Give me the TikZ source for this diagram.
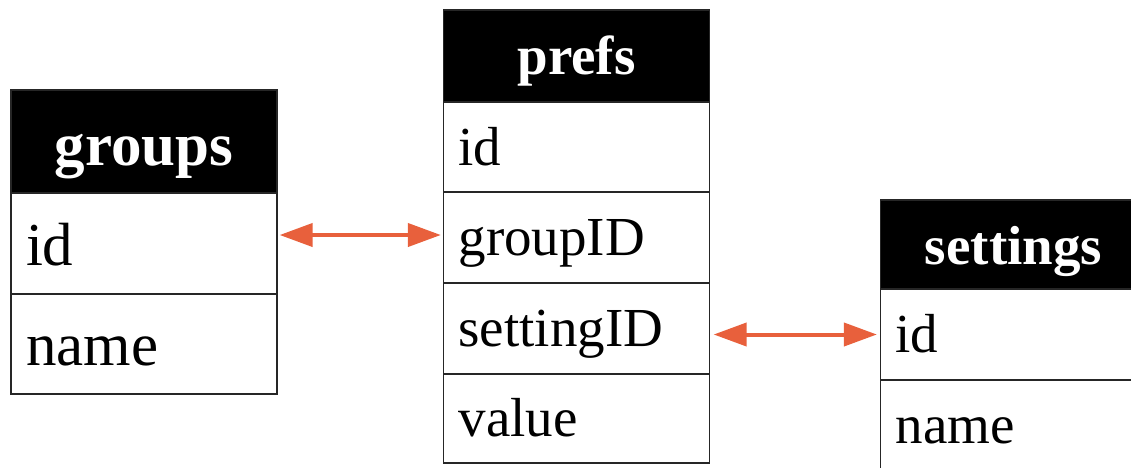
\documentclass[tikz,border=0pt]{standalone}
\usepackage{fontspec}
\setmainfont{Liberation Serif}
\usetikzlibrary{arrows.meta}
\definecolor{linkred}{HTML}{E8603C}
\newcommand{\grpsize}{\fontsize{61}{70}\selectfont}
\newcommand{\tabsize}{\fontsize{55}{64}\selectfont}
\tikzset{
	cell/.style={draw=black!85,line width=1.3pt,inner xsep=15pt,inner ysep=0pt,
		text width=236pt,align=left,text depth=0pt},
	head/.style={cell,fill=black,text=white,align=center},
	link/.style={<->,draw=linkred,line width=4pt},
}
\begin{document}
\begin{tikzpicture}[x=1pt,y=-1pt,>={Triangle[length=33pt,width=23pt]}]
		\useasboundingbox (0,0) rectangle (1131,467);
		\clip (0,0) rectangle (1131,467);
		% groups
		\node[head,font=\grpsize\bfseries,text height=47pt,minimum height=103pt] (gh) at (144,141.5) {groups};
		\node[cell,font=\grpsize,text height=43pt,minimum height=101pt] (gid) at (144,243.5) {id};
		\node[cell,font=\grpsize,text height=43pt,minimum height=100pt] (gname) at (144,344) {name};
		% prefs
		\node[head,font=\tabsize\bfseries,text height=36pt,minimum height=92pt] (ph) at (576.5,56) {prefs};
		\node[cell,font=\tabsize,text height=36pt,minimum height=90pt] (pid) at (576.5,147) {id};
		\node[cell,font=\tabsize,text height=36pt,minimum height=91pt] (pgrp) at (576.5,237.5) {groupID};
		\node[cell,font=\tabsize,text height=36pt,minimum height=91pt] (pset) at (576.5,328.5) {settingID};
		\node[cell,font=\tabsize,text height=36pt,minimum height=89pt] (pval) at (576.5,418.5) {value};
		% settings
		\node[head,font=\tabsize\bfseries,text height=39pt,minimum height=89pt] (sh) at (1013.5,244.5) {settings};
		\node[cell,font=\tabsize,text height=36pt,minimum height=91pt] (sid) at (1013.5,334.5) {id};
		\node[cell,font=\tabsize,text height=36pt,minimum height=91pt] (sname) at (1013.5,425.5) {name};
		% links
		\draw[link,shorten <=2pt,shorten >=2pt] ([yshift=8.5pt]gid.east)--([yshift=2.5pt]pgrp.west);
		\draw[link,shorten <=3.5pt,shorten >=3pt] ([yshift=-6pt]pset.east)--(sid.west);
	\end{tikzpicture}
\end{document}
